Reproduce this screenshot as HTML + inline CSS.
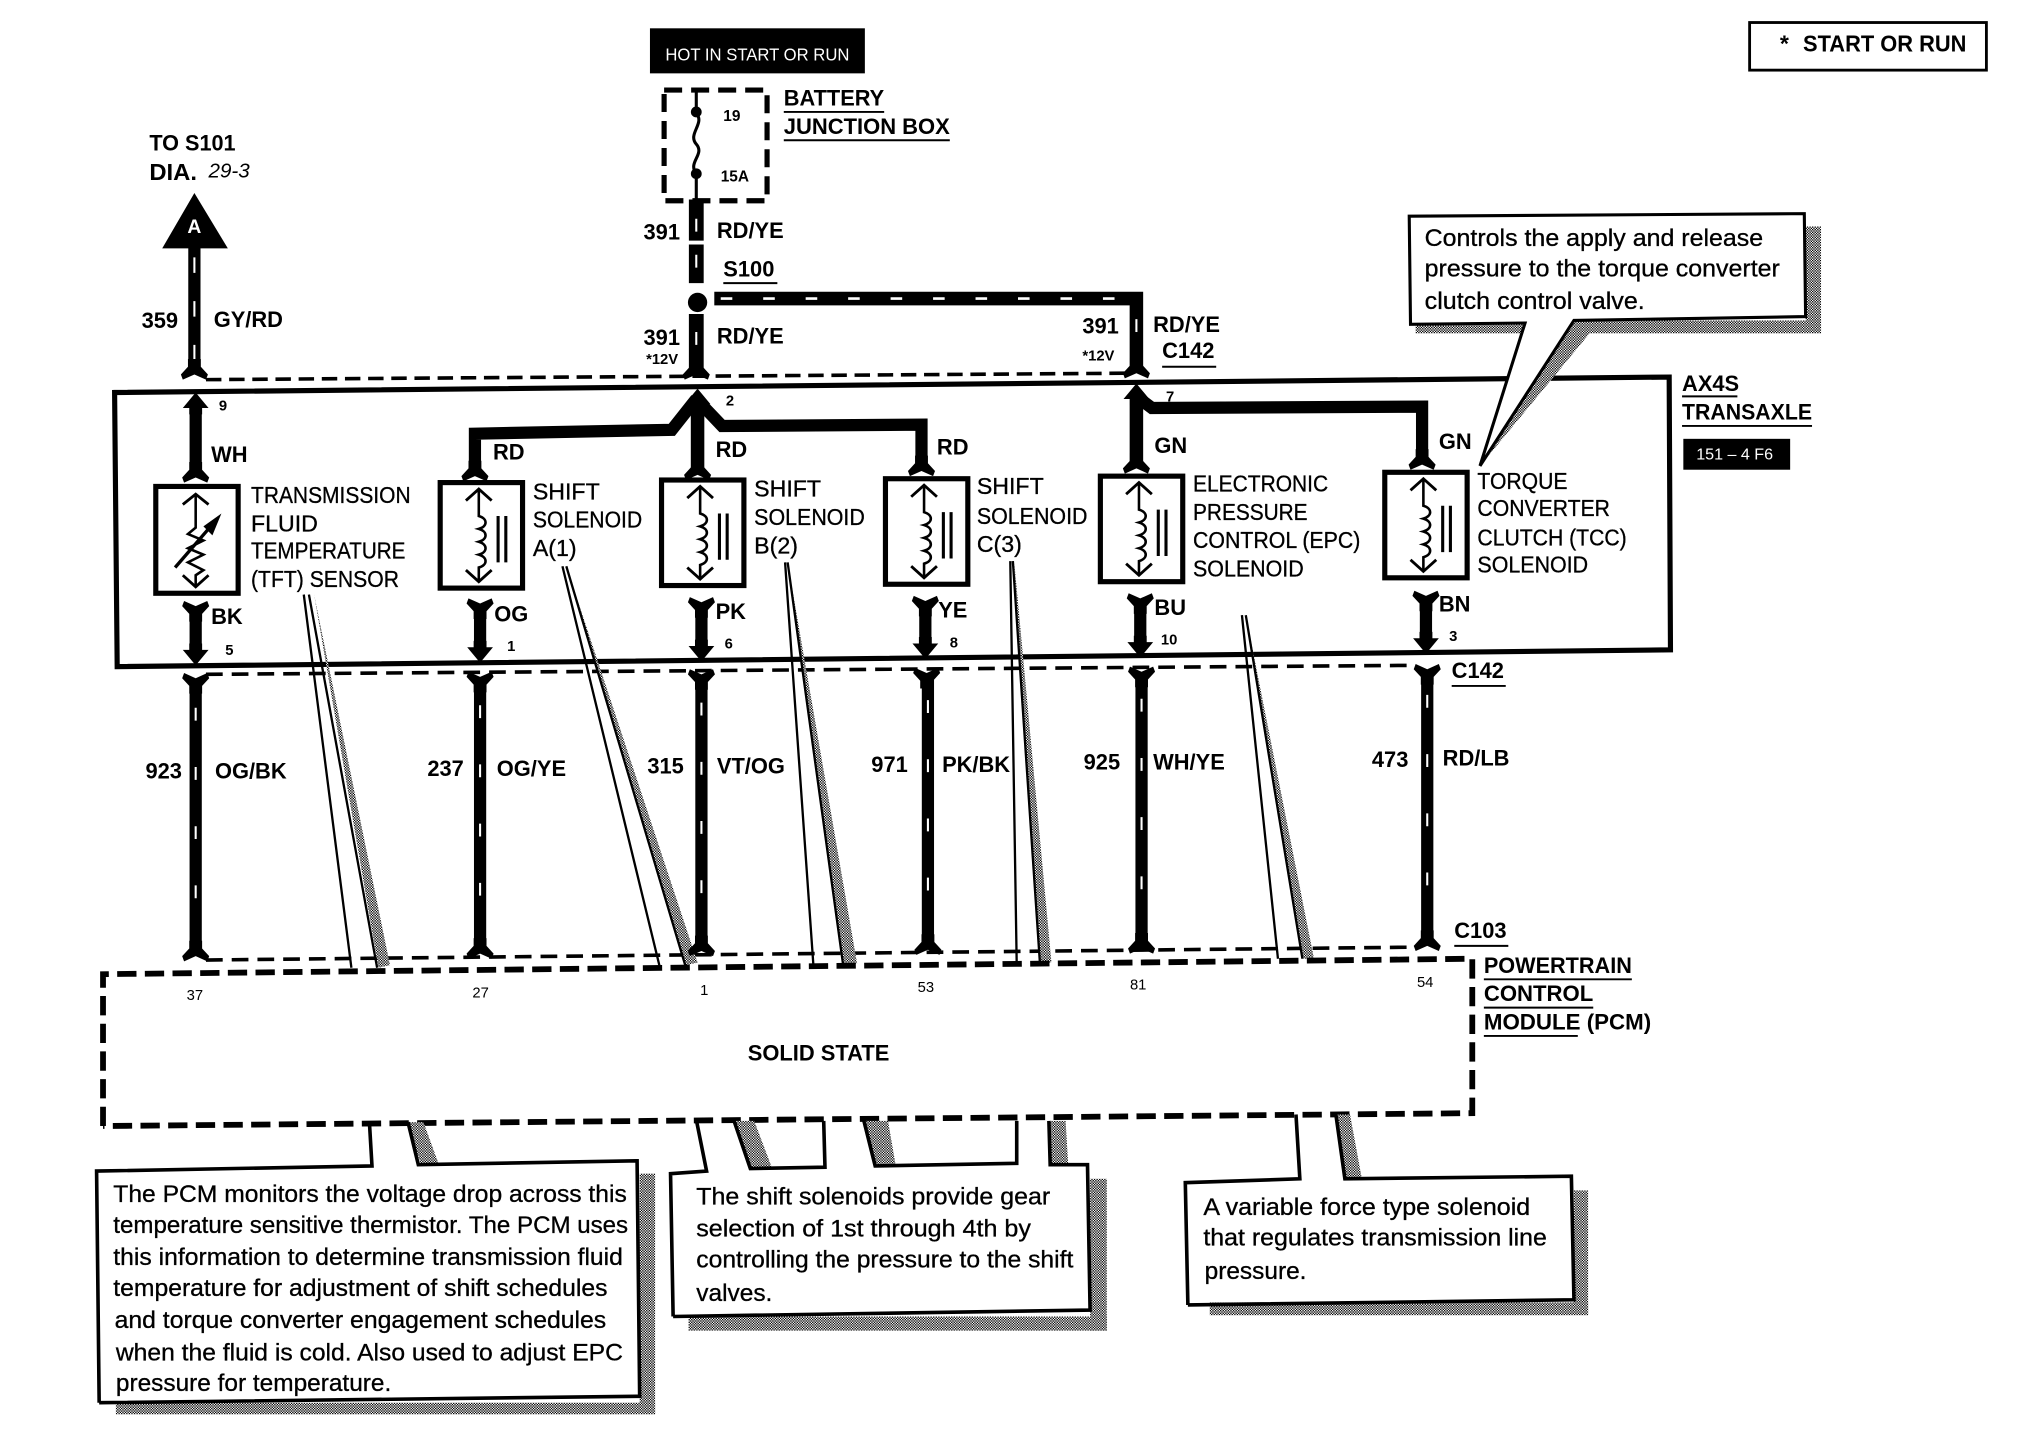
<!DOCTYPE html>
<html><head><meta charset="utf-8"><title>Transaxle wiring diagram</title>
<style>
html,body{margin:0;padding:0;background:#fff}
svg{display:block}
text{font-family:"Liberation Sans",Arial,sans-serif;fill:#000}
.b{font-weight:bold;font-size:17px}
.t{font-size:18px;stroke:#000;stroke-width:.25}
.c{font-size:19px;stroke:#000;stroke-width:.25}
.p{font-size:11.5px}
.wire{fill:none;stroke:#000;stroke-width:9.5}
.tick{fill:none;stroke:#fff;stroke-width:1.6;stroke-dasharray:10 36}
.u{stroke:#000;stroke-width:1.5}
.thin{stroke:#000;stroke-width:1.8;fill:none}
.box{fill:#fff;stroke:#000;stroke-width:4}
.call{stroke:#000;stroke-width:2.8;fill:none;stroke-linejoin:miter}
.shade{fill:url(#st)}
</style></head><body>
<svg xmlns="http://www.w3.org/2000/svg" width="2018" height="1456" viewBox="0 0 1568 1131.4">
<defs>
<pattern id="st" width="2" height="2" patternUnits="userSpaceOnUse"><rect width="2" height="2" fill="#fff"/><rect width="1" height="1" fill="#000"/><rect x="1" y="1" width="1" height="1" fill="#000"/></pattern>
<path id="fd" d="M-5-10V-4L-10.500 2-9 6 0 2 9 6 10.500 2 5-4V-10Z"/>
<path id="fu" d="M-5 10V4L-10.500-2-9-6 0-2 9-6 10.500-2 5 4V10Z"/>
<path id="au" d="M0-7 10 5H5V10H-5V5H-10Z"/>
<path id="ad" d="M0 7 10-5H5V-10H-5V-5H-10Z"/>
<g id="sol">
 <rect x="0" y="0" width="64" height="82" class="box"/>
 <path d="M30 6V26c7 2 7 8 0 10 7 2 7 8 0 10 7 2 7 8 0 10 7 2 7 8 0 10V76" fill="none" stroke="#000" stroke-width="2"/>
 <path d="M20 14 30 5 40 14M20 68 30 77 40 68" fill="none" stroke="#000" stroke-width="2.2"/>
 <path d="M45 26V62M51 26V62" stroke="#000" stroke-width="2.4"/>
</g>
</defs>
<rect width="1568" height="1132" fill="#fff"/>

<!-- key -->
<rect x="1359.5" y="17.500" width="184" height="37" fill="#fff" stroke="#000" stroke-width="2.2"/>
<text x="1383" y="40" class="b" style="font-size:18px">*</text>
<text x="1401" y="40" class="b" style="font-size:18px" textLength="127" lengthAdjust="spacingAndGlyphs">START OR RUN</text>

<!-- hot -->
<rect x="505" y="22" width="167" height="35" fill="#000"/>
<text x="517" y="47" style="fill:#fff;font-size:13.5px" textLength="143" lengthAdjust="spacingAndGlyphs">HOT IN START OR RUN</text>

<!-- fuse box -->
<rect x="516" y="70" width="80" height="86" fill="none" stroke="#000" stroke-width="4" stroke-dasharray="14 7"/>
<path d="M541 70V88c7 8-7 16 0 24s-7 14 0 23V156" fill="none" stroke="#000" stroke-width="2.4"/>
<circle cx="541" cy="87" r="4.200"/><circle cx="541" cy="135" r="4.200"/>
<text x="562" y="94" class="p" style="font-size:12px;font-weight:bold">19</text>
<text x="560" y="141" class="p" style="font-size:12px;font-weight:bold">15A</text>
<text x="609" y="82" class="b" textLength="78" lengthAdjust="spacingAndGlyphs">BATTERY</text>
<line x1="609" y1="87" x2="687" y2="87" class="u"/>
<text x="609" y="104" class="b" textLength="129" lengthAdjust="spacingAndGlyphs">JUNCTION BOX</text>
<line x1="609" y1="109" x2="738" y2="109" class="u"/>

<!-- TO S101 -->
<text x="116" y="117" class="b" textLength="67" lengthAdjust="spacingAndGlyphs">TO S101</text>
<text x="116" y="140" class="b" style="font-size:18px" textLength="37" lengthAdjust="spacingAndGlyphs">DIA.</text>
<text x="162" y="138" style="font-size:16px;font-style:italic">29-3</text>
<path d="M151 150 177 193H126Z"/>
<text x="151" y="181" text-anchor="middle" style="fill:#fff;font-size:15px;font-weight:bold">A</text>

<!-- upper wires -->
<path class="wire" d="M151 190V286"/><path class="tick" style="stroke-dasharray:12 22" d="M151 200V286"/>
<use href="#fd" x="151" y="289"/>
<path class="wire" style="stroke-width:11.5" d="M541 155V187M541 190V220M541 244V288"/>
<path class="tick" d="M541 170V185M541 198V218M541 258V288"/>
<circle cx="542" cy="235" r="7.500"/>
<use href="#fd" x="541" y="289"/>
<path class="wire" style="stroke-width:10.500" d="M555 232H883V287"/>
<path class="tick" style="stroke-dasharray:9 24;stroke-width:2" d="M560 232H880"/>
<path class="tick" d="M883 248V280"/>
<use href="#fd" x="883" y="288"/>

<text x="500" y="186" class="b">391</text><text x="557" y="185" class="b">RD/YE</text>
<text x="562" y="215" class="b">S100</text><line x1="562" y1="220" x2="604" y2="220" class="u"/>
<text x="500" y="268" class="b">391</text><text x="502" y="283" class="p" style="font-weight:bold">*12V</text>
<text x="557" y="267" class="b">RD/YE</text>
<text x="841" y="259" class="b">391</text><text x="841" y="280" class="p" style="font-weight:bold">*12V</text>
<text x="896" y="258" class="b">RD/YE</text>
<text x="903" y="278" class="b">C142</text><line x1="903" y1="285" x2="945" y2="285" class="u"/>
<text x="110" y="255" class="b">359</text><text x="166" y="254" class="b">GY/RD</text>

<!-- dashed connector top -->
<line x1="160" y1="295" x2="878" y2="290" stroke="#000" stroke-width="2.8" stroke-dasharray="12 6"/>

<!-- transaxle box -->
<path d="M89 305 1297 293 1298 505 91 518Z" fill="none" stroke="#000" stroke-width="4"/>

<!-- TCC callout shadow + pointer -->
<rect x="1403" y="176" width="12" height="82" class="shade"/>
<rect x="1100" y="249" width="315" height="10" class="shade"/>
<path d="M1224 246 1150 362 1241 252Z" class="shade"/>
<path d="M1095 168 1402 166 1403 246 1223 249 1150 362 1185 251 1096 252Z" fill="#fff" stroke="#000" stroke-width="2.4"/>
<text x="1107" y="191" class="c" textLength="263" lengthAdjust="spacingAndGlyphs">Controls the apply and release</text>
<text x="1107" y="215" class="c" textLength="276" lengthAdjust="spacingAndGlyphs">pressure to the torque converter</text>
<text x="1107" y="240" class="c" textLength="171" lengthAdjust="spacingAndGlyphs">clutch control valve.</text>

<text x="1307" y="304" class="b">AX4S</text><line x1="1307" y1="308" x2="1350" y2="308" class="u"/>
<text x="1307" y="326" class="b" textLength="101" lengthAdjust="spacingAndGlyphs">TRANSAXLE</text><line x1="1307" y1="331" x2="1408" y2="331" class="u"/>
<rect x="1308" y="341" width="83" height="24" fill="#000"/>
<text x="1318" y="357" style="fill:#fff;font-size:12.5px">151 – 4 F6</text>

<!-- internal wires -->
<path class="wire" d="M152 312V366"/><use href="#au" x="152" y="312"/><use href="#fd" x="152" y="369"/>
<path class="wire" style="stroke-width:10.500" d="M542 310V367"/><use href="#au" x="542" y="309"/><use href="#fd" x="542" y="367"/>
<path class="wire" d="M541 310 522 334 369 337V367"/><use href="#fd" x="369" y="368"/>
<path class="wire" d="M541 310 561 331 716 330V363"/><use href="#fd" x="716" y="364"/>
<path class="wire" style="stroke-width:10.500" d="M883 305V361"/><use href="#au" x="883" y="305"/><use href="#fd" x="883" y="362"/>
<path class="wire" d="M883 308 895 317 1105 316V358"/><use href="#fd" x="1105" y="359"/>

<text x="170" y="319" class="p" style="font-weight:bold">9</text>
<text x="564" y="315" class="p" style="font-weight:bold">2</text>
<text x="906" y="312" class="p" style="font-weight:bold">7</text>
<text x="164" y="359" class="b">WH</text>
<text x="383" y="357" class="b">RD</text><text x="556" y="355" class="b">RD</text><text x="728" y="353" class="b">RD</text>
<text x="897" y="352" class="b">GN</text><text x="1118" y="349" class="b">GN</text>

<!-- components -->
<rect x="121" y="378" width="64" height="83" class="box"/>
<path d="M152 385V410L146 415 158 420 146 426 158 431 146 437 158 443 152 447V455" fill="none" stroke="#000" stroke-width="2"/>
<path d="M142 392 152 384 162 392M142 447 152 456 162 447" fill="none" stroke="#000" stroke-width="2.2"/>
<path d="M136 441 168 404" stroke="#000" stroke-width="2.6"/><path d="M172 399 158 409 165 416Z"/>
<use href="#sol" x="342" y="375"/>
<use href="#sol" x="514" y="373"/>
<use href="#sol" x="688" y="372"/>
<use href="#sol" x="855" y="370"/>
<use href="#sol" x="1076" y="367"/>

<g>
<text x="195" y="391" class="t" textLength="124" lengthAdjust="spacingAndGlyphs">TRANSMISSION</text>
<text x="195" y="413" class="t">FLUID</text>
<text x="195" y="434" class="t" textLength="120" lengthAdjust="spacingAndGlyphs">TEMPERATURE</text>
<text x="195" y="456" class="t" textLength="115" lengthAdjust="spacingAndGlyphs">(TFT) SENSOR</text>
<text x="414" y="388" class="t">SHIFT</text>
<text x="414" y="410" class="t" textLength="85" lengthAdjust="spacingAndGlyphs">SOLENOID</text>
<text x="414" y="432" class="t">A(1)</text>
<text x="586" y="386" class="t">SHIFT</text>
<text x="586" y="408" class="t" textLength="86" lengthAdjust="spacingAndGlyphs">SOLENOID</text>
<text x="586" y="430" class="t">B(2)</text>
<text x="759" y="384" class="t">SHIFT</text>
<text x="759" y="407" class="t" textLength="86" lengthAdjust="spacingAndGlyphs">SOLENOID</text>
<text x="759" y="429" class="t">C(3)</text>
<text x="927" y="382" class="t" textLength="105" lengthAdjust="spacingAndGlyphs">ELECTRONIC</text>
<text x="927" y="404" class="t" textLength="89" lengthAdjust="spacingAndGlyphs">PRESSURE</text>
<text x="927" y="426" class="t" textLength="130" lengthAdjust="spacingAndGlyphs">CONTROL (EPC)</text>
<text x="927" y="448" class="t" textLength="86" lengthAdjust="spacingAndGlyphs">SOLENOID</text>
<text x="1148" y="380" class="t" textLength="70" lengthAdjust="spacingAndGlyphs">TORQUE</text>
<text x="1148" y="401" class="t" textLength="103" lengthAdjust="spacingAndGlyphs">CONVERTER</text>
<text x="1148" y="424" class="t" textLength="116" lengthAdjust="spacingAndGlyphs">CLUTCH (TCC)</text>
<text x="1148" y="445" class="t" textLength="86" lengthAdjust="spacingAndGlyphs">SOLENOID</text>
</g>

<!-- lower wires in box -->
<path class="wire" d="M152 472V510"/><use href="#fu" x="152" y="473"/><use href="#ad" x="152" y="510"/>
<path class="wire" d="M373 470V508"/><use href="#fu" x="373" y="471"/><use href="#ad" x="373" y="508"/>
<path class="wire" d="M545 470V506"/><use href="#fu" x="545" y="470"/><use href="#ad" x="545" y="507"/>
<path class="wire" d="M719 469V504"/><use href="#fu" x="719" y="469"/><use href="#ad" x="719" y="505"/>
<path class="wire" d="M886 467V503"/><use href="#fu" x="886" y="467"/><use href="#ad" x="886" y="504"/>
<path class="wire" d="M1108 465V500"/><use href="#fu" x="1108" y="465"/><use href="#ad" x="1108" y="501"/>
<text x="164" y="485" class="b">BK</text><text x="175" y="509" class="p" style="font-weight:bold">5</text>
<text x="384" y="483" class="b">OG</text><text x="394" y="506" class="p" style="font-weight:bold">1</text>
<text x="556" y="481" class="b">PK</text><text x="563" y="504" class="p" style="font-weight:bold">6</text>
<text x="729" y="480" class="b">YE</text><text x="738" y="503" class="p" style="font-weight:bold">8</text>
<text x="897" y="478" class="b">BU</text><text x="902" y="501" class="p" style="font-weight:bold">10</text>
<text x="1118" y="475" class="b">BN</text><text x="1126" y="498" class="p" style="font-weight:bold">3</text>

<!-- dashed rows -->
<line x1="160" y1="524" x2="1100" y2="517" stroke="#000" stroke-width="2.8" stroke-dasharray="13 7"/>
<line x1="160" y1="746" x2="1100" y2="736" stroke="#000" stroke-width="2.8" stroke-dasharray="13 7"/>

<!-- pointer lines -->
<path d="M244 462 294 752 303 750Z" class="shade"/>
<path d="M236 462 273 752M240 462 293 752" class="thin"/>
<path d="M440 440 533 750 542 748Z" class="shade"/>
<path d="M437 440 513 753M440 440 533 752" class="thin"/>
<path d="M612 437 655 750 666 749Z" class="shade"/>
<path d="M610 437 632 750M612 437 655 749" class="thin"/>
<path d="M788 436 808 748 817 748Z" class="shade"/>
<path d="M785 436 790 750M787 436 808 748" class="thin"/>
<path d="M968 478 1012 745 1021 745Z" class="shade"/>
<path d="M965 478 993 745M968 478 1012 745" class="thin"/>

<!-- long wires -->
<g>
<path class="wire" d="M152 532V737"/><path class="tick" d="M152 550V737"/>
<use href="#fu" x="152" y="529"/><use href="#fd" x="152" y="741"/>
<path class="wire" d="M373 530V735"/><path class="tick" d="M373 548V735"/>
<use href="#fu" x="373" y="528"/><use href="#fd" x="373" y="739"/>
<path class="wire" d="M545 528V733"/><path class="tick" d="M545 546V733"/>
<use href="#fu" x="545" y="526"/><use href="#fd" x="545" y="737"/>
<path class="wire" d="M721 526V732"/><path class="tick" d="M721 544V732"/>
<use href="#fu" x="720" y="525"/><use href="#fd" x="721" y="736"/>
<path class="wire" d="M887 525V731"/><path class="tick" d="M887 543V731"/>
<use href="#fu" x="887" y="524"/><use href="#fd" x="887" y="735"/>
<path class="wire" d="M1109 522V729"/><path class="tick" d="M1109 540V729"/>
<use href="#fu" x="1109" y="522"/><use href="#fd" x="1109" y="733"/>
</g>
<text x="113" y="605" class="b">923</text><text x="167" y="605" class="b">OG/BK</text>
<text x="332" y="603" class="b">237</text><text x="386" y="603" class="b">OG/YE</text>
<text x="503" y="601" class="b">315</text><text x="557" y="601" class="b">VT/OG</text>
<text x="677" y="600" class="b">971</text><text x="732" y="600" class="b">PK/BK</text>
<text x="842" y="598" class="b">925</text><text x="896" y="598" class="b">WH/YE</text>
<text x="1066" y="596" class="b">473</text><text x="1121" y="595" class="b">RD/LB</text>
<text x="1128" y="527" class="b">C142</text><line x1="1128" y1="533" x2="1170" y2="533" class="u"/>
<text x="1130" y="729" class="b">C103</text><line x1="1130" y1="735" x2="1172" y2="735" class="u"/>

<!-- PCM -->
<path d="M80 875V757L1144 745V865L80 875" fill="none" stroke="#000" stroke-width="4.500" stroke-dasharray="15 6.500"/>
<text x="145" y="777" class="p">37</text><text x="367" y="775" class="p">27</text><text x="544" y="773" class="p">1</text>
<text x="713" y="771" class="p">53</text><text x="878" y="769" class="p">81</text><text x="1101" y="767" class="p">54</text>
<text x="1153" y="756" class="b" textLength="115" lengthAdjust="spacingAndGlyphs">POWERTRAIN</text><line x1="1153" y1="761" x2="1268" y2="761" class="u"/>
<text x="1153" y="778" class="b" textLength="85" lengthAdjust="spacingAndGlyphs">CONTROL</text><line x1="1153" y1="783" x2="1238" y2="783" class="u"/>
<text x="1153" y="800" class="b" textLength="130" lengthAdjust="spacingAndGlyphs">MODULE (PCM)</text><line x1="1153" y1="805" x2="1226" y2="805" class="u"/>
<text x="581" y="824" class="b" textLength="110" lengthAdjust="spacingAndGlyphs">SOLID STATE</text>

<!-- callout 1 -->
<rect x="497" y="912" width="12" height="186" class="shade"/>
<rect x="90" y="1090" width="419" height="9" class="shade"/>
<path d="M317 872 329 872 341 905 327 905Z" class="shade"/>
<path d="M77 1090 75 910 289 906 287 872M317 872 325 905 495 902 497 1085 77 1090" class="call"/>
<text x="88" y="934" class="c" textLength="399" lengthAdjust="spacingAndGlyphs">The PCM monitors the voltage drop across this</text>
<text x="88" y="958" class="c" textLength="400" lengthAdjust="spacingAndGlyphs">temperature sensitive thermistor. The PCM uses</text>
<text x="88" y="983" class="c" textLength="396" lengthAdjust="spacingAndGlyphs">this information to determine transmission fluid</text>
<text x="88" y="1007" class="c" textLength="384" lengthAdjust="spacingAndGlyphs">temperature for adjustment of shift schedules</text>
<text x="89" y="1032" class="c" textLength="382" lengthAdjust="spacingAndGlyphs">and torque converter engagement schedules</text>
<text x="90" y="1057" class="c" textLength="394" lengthAdjust="spacingAndGlyphs">when the fluid is cold. Also used to adjust EPC</text>
<text x="90" y="1081" class="c" textLength="214" lengthAdjust="spacingAndGlyphs">pressure for temperature.</text>

<!-- callout 2 -->
<rect x="847" y="916" width="13" height="118" class="shade"/>
<rect x="535" y="1023" width="325" height="11" class="shade"/>
<path d="M570 871 586 871 600 908 583 908Z" class="shade"/>
<path d="M672 871 690 871 696 906 680 906Z" class="shade"/>
<path d="M815 871 828 871 830 905 816 905Z" class="shade"/>
<path d="M523 1023 521 912 549 910 541 870M570 870 583 908 641 907 640 871M671 870 680 906 790 904 790 871M815 871 816 905 845 905 847 1018 523 1023" class="call"/>
<text x="541" y="936" class="c" textLength="275" lengthAdjust="spacingAndGlyphs">The shift solenoids provide gear</text>
<text x="541" y="961" class="c" textLength="260" lengthAdjust="spacingAndGlyphs">selection of 1st through 4th by</text>
<text x="541" y="985" class="c" textLength="293" lengthAdjust="spacingAndGlyphs">controlling the pressure to the shift</text>
<text x="541" y="1011" class="c">valves.</text>

<!-- callout 3 -->
<rect x="1223" y="925" width="11" height="96" class="shade"/>
<rect x="940" y="1012" width="294" height="10" class="shade"/>
<path d="M1038 866 1049 866 1058 915 1045 915Z" class="shade"/>
<path d="M923 1014 921 919 1010 916 1007 866M1038 866 1045 916 1221 914 1223 1010 923 1014" class="call"/>
<text x="935" y="944" class="c" textLength="254" lengthAdjust="spacingAndGlyphs">A variable force type solenoid</text>
<text x="935" y="968" class="c" textLength="267" lengthAdjust="spacingAndGlyphs">that regulates transmission line</text>
<text x="936" y="994" class="c">pressure.</text>
</svg>
</body></html>
